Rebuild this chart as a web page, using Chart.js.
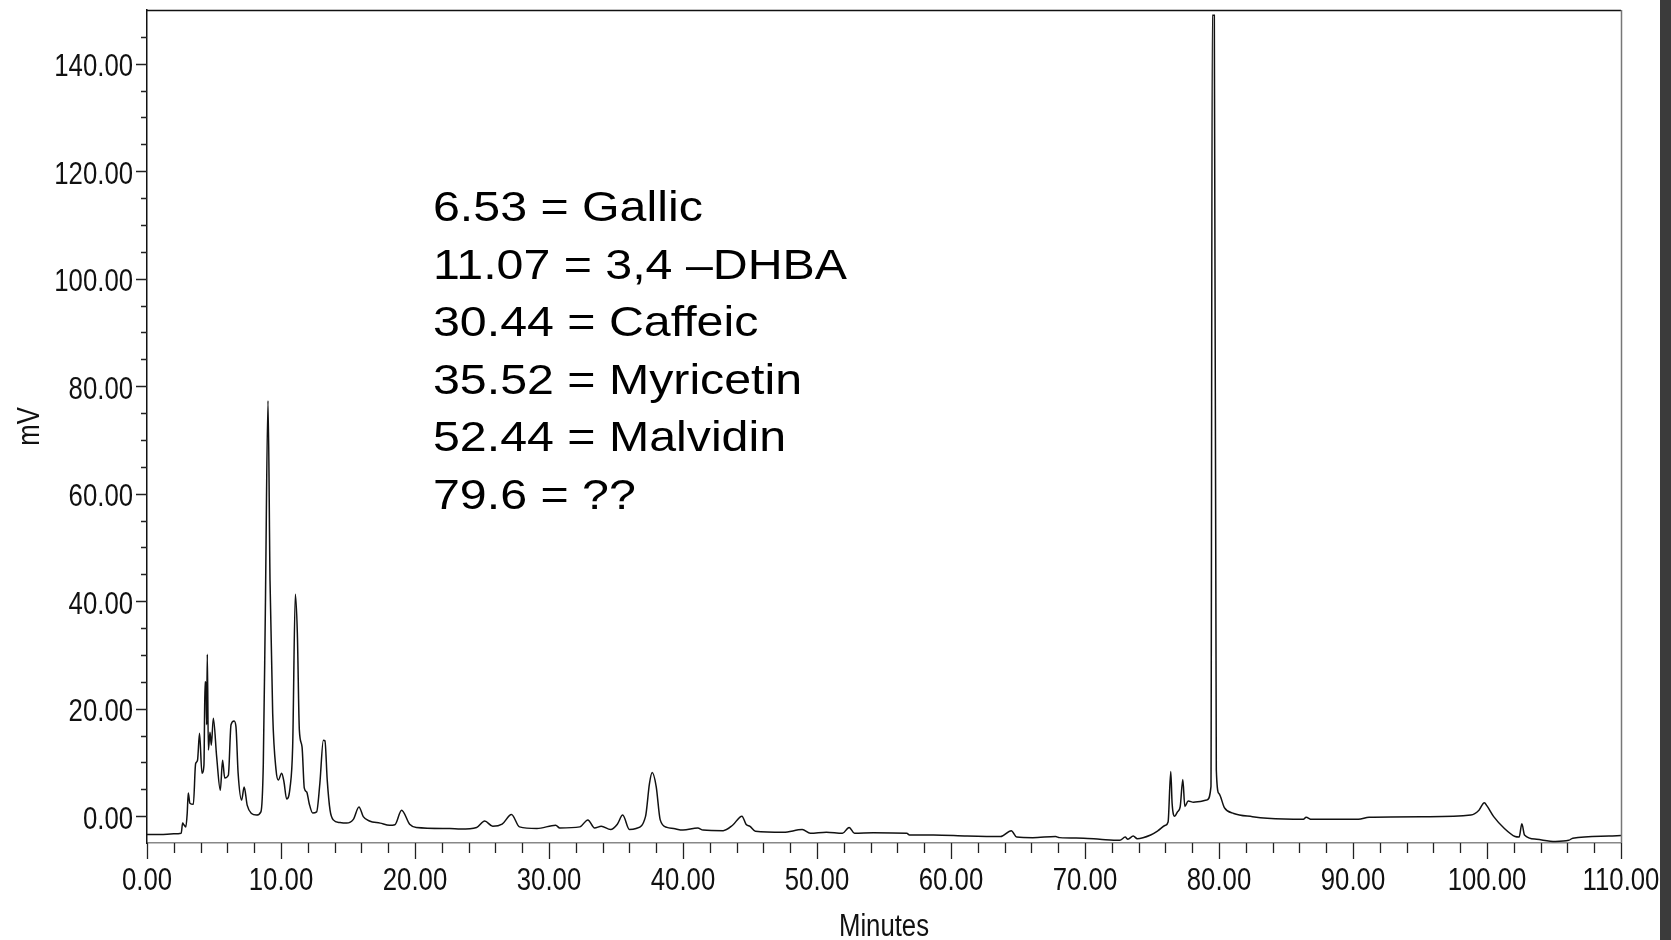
<!DOCTYPE html>
<html>
<head>
<meta charset="utf-8">
<script src="https://cdn.jsdelivr.net/npm/chart.js@4.4.1/dist/chart.umd.min.js"></script>
<style>
  html, body { margin: 0; padding: 0; background: #fff; }
  #wrap { position: relative; width: 1671px; height: 940px; overflow: hidden; }
  #edge { position: absolute; left: 1660px; top: 0; width: 11px; height: 940px; background: #3b3b3b; }
</style>
</head>
<body>
<div id="wrap">
  <canvas id="chromatogram" width="1671" height="940"></canvas>
  <div id="edge"></div>
</div>
<script>
// retention time (minutes) and detector response (mV)
const times = [
  0.0, 1.0, 2.0, 2.55, 2.66, 2.75, 2.9, 3.0, 3.08, 3.2, 3.46, 3.6, 3.63, 3.77, 3.92,
  4.1, 4.25, 4.33, 4.4, 4.45, 4.5, 4.58, 4.7, 4.8, 4.95, 5.2, 5.47, 5.64, 5.8, 6.07,
  6.27, 6.5, 6.64, 6.8, 7.06, 7.25, 7.48, 7.8, 8.17, 8.5, 8.68, 8.83, 9.03, 9.18, 9.38,
  9.63, 9.8, 10.05, 10.22, 10.42, 10.67, 10.87, 11.07, 11.22, 11.37, 11.57, 11.74, 11.92, 12.1, 12.36,
  12.66, 12.9, 13.16, 13.28, 13.45, 13.66, 13.9, 14.4, 14.9, 15.4, 15.82, 16.14, 16.6, 17.4, 18.1,
  18.5, 19.0, 19.6, 20.1, 22.6, 23.4, 24.6, 25.2, 25.8, 26.5, 27.2, 27.8, 29.1, 30.5, 30.8,
  32.3, 32.9, 33.4, 33.9, 34.6, 35.1, 35.5, 36.0, 36.5, 37.2, 37.5, 37.7, 38.0, 38.3, 38.8,
  39.3, 40.0, 41.1, 41.5, 43.0, 43.7, 44.4, 44.7, 45.0, 45.4, 47.5, 48.9, 49.5, 50.7, 51.9,
  52.4, 52.8, 54.2, 56.7, 56.9, 58.7, 61.2, 63.7, 64.5, 64.9, 66.1, 67.8, 68.1, 69.9, 71.1,
  72.6, 73.0, 73.2, 73.6, 73.9, 74.9, 75.45, 76.0, 76.2, 76.4, 76.5, 76.7, 76.9, 77.1, 77.3,
  77.45, 77.7, 78.1, 78.6, 79.1, 79.4, 79.5, 79.65, 79.8, 80.0, 80.4, 81.1, 82.5, 83.6, 86.3,
  86.5, 86.9, 90.4, 91.2, 95.6, 98.8, 99.4, 99.8, 100.0, 100.5, 101.3, 102.1, 102.4, 102.6, 102.8,
  103.7, 105.1, 106.1, 106.4, 109.1, 110.0
];
const mvValues = [
  -3.4, -3.4, -3.3, -3.2, -1.3, -1.6, -2.0, 0.5, 4.3, 2.4, 2.2, 9.0, 9.8, 10.4, 15.4,
  8.0, 9.5, 25.0, 24.5, 17.0, 30.1, 12.3, 15.6, 13.2, 18.2, 11.0, 4.8, 10.4, 7.1, 7.6,
  17.0, 17.7, 16.6, 8.0, 3.0, 5.4, 2.0, 0.5, 0.2, 0.8, 9.8, 37.8, 77.3, 43.9, 19.1,
  8.6, 6.7, 8.0, 6.4, 3.2, 5.2, 12.9, 41.3, 34.0, 16.0, 12.9, 5.2, 4.5, 2.4, 0.6,
  0.8, 6.1, 14.1, 14.0, 6.7, 1.1, -0.7, -1.2, -1.3, -0.6, 1.7, -0.1, -0.9, -1.3, -1.7,
  -1.6, 1.1, -1.5, -2.1, -2.3, -2.4, -2.1, -0.9, -1.9, -1.5, 0.3, -2.0, -2.3, -1.7, -2.2,
  -2.0, -0.7, -2.2, -1.9, -2.5, -1.5, 0.2, -2.5, -2.3, -0.1, 6.1, 8.1, 5.5, -0.7, -2.1,
  -2.3, -2.6, -2.2, -2.6, -2.7, -1.7, 0.0, -1.5, -1.9, -2.8, -3.0, -2.5, -3.2, -3.0, -3.2,
  -2.1, -3.2, -3.1, -3.2, -3.5, -3.5, -3.7, -3.8, -2.7, -3.9, -4.0, -3.8, -4.0, -4.1, -4.3,
  -4.5, -3.9, -4.3, -3.7, -4.2, -3.5, -2.7, -1.7, -1.1, 8.3, 2.4, 0.0, 0.8, 1.7, 6.8,
  1.8, 2.8, 2.6, 2.7, 3.0, 5.5, 149.0, 149.0, 8.6, 4.2, 1.6, 0.5, -0.1, -0.4, -0.6,
  -0.2, -0.6, -0.6, -0.2, -0.1, 0.2, 1.1, 2.5, 1.9, -0.1, -2.3, -3.8, -3.9, -1.4, -3.5,
  -4.3, -4.7, -4.5, -4.1, -3.7, -3.6
];

const xTickValues = [0, 10, 20, 30, 40, 50, 60, 70, 80, 90, 100, 110];
const yTickValues = [0, 20, 40, 60, 80, 100, 120, 140];
const xMinorStep = 2;
const yMinorStep = 5;

const peakNotes = [
  "6.53 = Gallic",
  "11.07 = 3,4 \u2013DHBA",
  "30.44 = Caffeic",
  "35.52 = Myricetin",
  "52.44 = Malvidin",
  "79.6 = ??"
];

const axisFont = "31px 'Liberation Sans', Arial, sans-serif";
const squeeze = 0.83; // the axis lettering in the original is condensed

function narrowText(ctx, text, x, y, align) {
  ctx.save();
  ctx.translate(x, y);
  ctx.scale(squeeze, 1);
  ctx.textAlign = align;
  ctx.fillText(text, 0, 0);
  ctx.restore();
}

// tick marks, tick labels, titles, plot frame and the peak list
const chartDecor = {
  id: 'chartDecor',
  afterDraw(chart) {
    const { ctx, chartArea: a, scales: { x, y } } = chart;
    ctx.save();

    ctx.strokeStyle = '#222';
    ctx.lineWidth = 1.3;
    ctx.beginPath();
    for (let v = x.min; v <= x.max; v += xMinorStep) {
      const px = Math.round(x.getPixelForValue(v)) + 0.5;
      const len = v % 10 === 0 ? 16 : 10;
      ctx.moveTo(px, a.bottom);
      ctx.lineTo(px, a.bottom + len);
    }
    for (let v = 0; v < y.max; v += yMinorStep) {
      const py = Math.round(y.getPixelForValue(v)) + 0.5;
      const len = v % 20 === 0 ? 11 : 6;
      ctx.moveTo(a.left - len, py);
      ctx.lineTo(a.left, py);
    }
    ctx.stroke();

    ctx.lineWidth = 1.5;
    ctx.strokeStyle = '#111';
    ctx.beginPath();
    ctx.moveTo(a.left, a.top + 0.5);
    ctx.lineTo(a.right, a.top + 0.5);
    ctx.stroke();
    ctx.strokeStyle = '#777';
    ctx.beginPath();
    ctx.moveTo(a.right + 0.5, a.top);
    ctx.lineTo(a.right + 0.5, a.bottom);
    ctx.stroke();

    // axis labels and titles
    ctx.fillStyle = '#111';
    ctx.font = axisFont;
    ctx.textBaseline = 'middle';
    yTickValues.forEach(v => {
      narrowText(ctx, v.toFixed(2), a.left - 14, y.getPixelForValue(v) + 4, 'right');
    });
    xTickValues.forEach(v => {
      narrowText(ctx, v.toFixed(2), x.getPixelForValue(v), a.bottom + 38, 'center');
    });
    narrowText(ctx, 'Minutes', (a.left + a.right) / 2, a.bottom + 84, 'center');
    ctx.save();
    ctx.translate(30, (a.top + a.bottom) / 2);
    ctx.rotate(-Math.PI / 2);
    narrowText(ctx, 'mV', 0, 0, 'center');
    ctx.restore();

    // list of identified peaks, slightly stretched like the original figure
    ctx.fillStyle = '#000';
    ctx.font = "42px 'Liberation Sans', Arial, sans-serif";
    ctx.textBaseline = 'alphabetic';
    ctx.scale(1.15, 1);
    peakNotes.forEach((line, i) => {
      ctx.fillText(line, 433 / 1.15, 221 + i * 57.6);
    });
    ctx.restore();
  }
};

const ctx = document.getElementById('chromatogram').getContext('2d');
new Chart(ctx, {
  type: 'line',
  data: {
    datasets: [{
      data: times.map((t, i) => ({ x: t, y: mvValues[i] })),
      borderColor: '#111',
      borderWidth: 1.5,
      pointRadius: 0,
      cubicInterpolationMode: 'monotone',
      fill: false
    }]
  },
  options: {
    responsive: false,
    animation: false,
    layout: { padding: { top: 10, right: 50, bottom: 0, left: 0 } },
    plugins: {
      legend: { display: false },
      tooltip: { enabled: false }
    },
    scales: {
      x: {
        type: 'linear',
        min: 0,
        max: 110,
        afterBuildTicks: s => { s.ticks = xTickValues.map(v => ({ value: v })); },
        afterFit: s => { s.height = 97; s.paddingLeft = 0; s.paddingRight = 0; },
        grid: { display: false, drawTicks: false },
        border: { display: true, color: '#888', width: 1.5 },
        ticks: { display: false }
      },
      y: {
        type: 'linear',
        min: -5,
        max: 150,
        afterBuildTicks: s => { s.ticks = yTickValues.map(v => ({ value: v })); },
        afterFit: s => { s.width = 147; s.paddingTop = 0; s.paddingBottom = 0; },
        grid: { display: false, drawTicks: false },
        border: { display: true, color: '#111', width: 1.5 },
        ticks: { display: false }
      }
    }
  },
  plugins: [chartDecor]
});
</script>
</body>
</html>
